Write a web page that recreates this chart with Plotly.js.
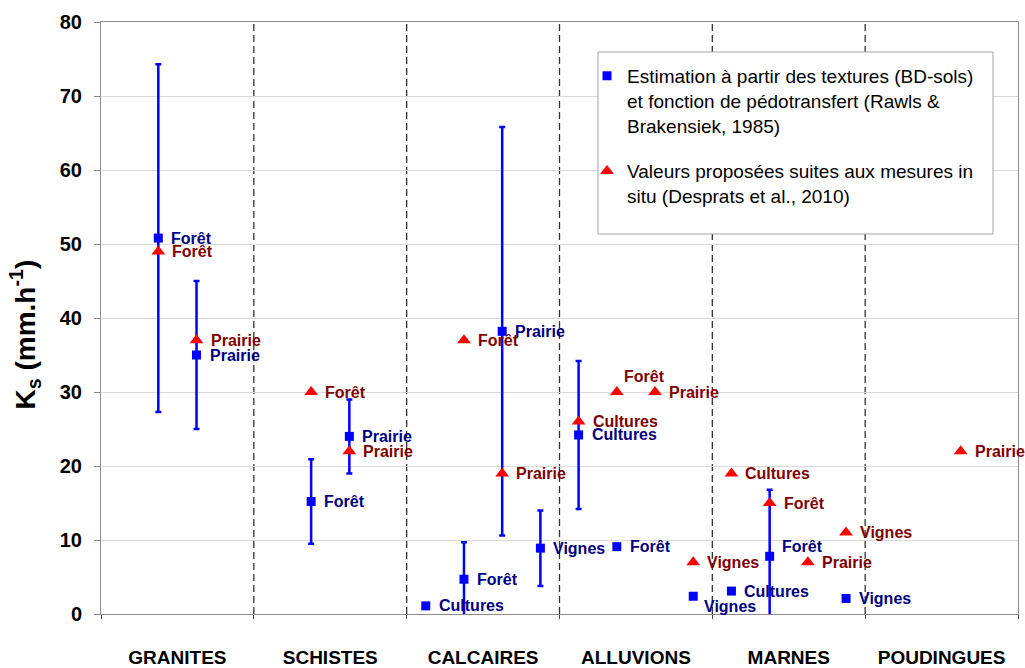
<!DOCTYPE html>
<html><head><meta charset="utf-8">
<script src="https://cdn.plot.ly/plotly-3.0.1.min.js"></script>
<style>html,body{margin:0;padding:0;background:#fff;}#chart{width:1025px;height:668px;}</style>
</head><body><div id="chart"></div>
<script>
const groups = ['GRANITES','SCHISTES','CALCAIRES','ALLUVIONS','MARNES','POUDINGUES'];
const landUses = ['Cultures','Forêt','Prairie','Vignes'];

// Estimation from textures (BD-sols) + pedotransfer function
const estGroup = ['GRANITES','GRANITES','SCHISTES','SCHISTES','CALCAIRES','CALCAIRES','CALCAIRES','CALCAIRES','ALLUVIONS','ALLUVIONS','ALLUVIONS','MARNES','MARNES','MARNES'];
const estUse   = ['Forêt','Prairie','Forêt','Prairie','Cultures','Forêt','Prairie','Vignes','Cultures','Forêt','Vignes','Cultures','Forêt','Vignes'];
const estKs    = [50.8,35,15.2,24,1.1,4.7,38.2,8.9,24.2,9.1,2.4,3.1,7.8,2.1];
const estErr   = [23.5,10,5.7,5,null,5,27.6,5.1,10,null,null,null,9,null];

// Values proposed after in-situ measurements
const insituGroup = ['GRANITES','GRANITES','SCHISTES','SCHISTES','CALCAIRES','CALCAIRES','ALLUVIONS','ALLUVIONS','ALLUVIONS','ALLUVIONS','MARNES','MARNES','MARNES','MARNES','POUDINGUES'];
const insituUse   = ['Forêt','Prairie','Forêt','Prairie','Forêt','Prairie','Cultures','Forêt','Prairie','Vignes','Cultures','Forêt','Prairie','Vignes','Prairie'];
const insituKs    = [49,37,30,22,37,19,26,30,30,7,19,15,7,11,22];

const estName = 'Estimation à partir des textures (BD-sols)<br>et fonction de pédotransfert (Rawls &amp;<br>Brakensiek, 1985)';
const insituName = 'Valeurs proposées suites aux mesures in<br>situ (Desprats et al., 2010)';
const yTitle = 'K<sub>s</sub> (mm.h<sup>-1</sup>)';

// ---- layout helpers ----
const SLOTS = landUses.length;
const pos = (g, u) => groups.indexOf(g) * SLOTS + landUses.indexOf(u) + 0.5;
const FONT = 'Liberation Sans, Arial, sans-serif';
const BLUE = '#0000FF', RED = '#FF0000', BLUE_TXT = '#000080', RED_TXT = '#800000';

const estX = estGroup.map((g, i) => pos(g, estUse[i]));
const insituX = insituGroup.map((g, i) => pos(g, insituUse[i]));

const traces = [
  {
    type: 'scatter', mode: 'markers', name: estName, legendgroup: 'a',
    x: estX, y: estKs,
    marker: {symbol: 'square', size: 9, color: BLUE},
    error_y: {type: 'data', array: estErr, symmetric: true, color: BLUE, thickness: 2.5, width: 3},
    hoverinfo: 'skip'
  },
  {
    type: 'scatter', mode: 'markers', name: insituName, legendgroup: 'b',
    x: insituX, y: insituKs,
    marker: {symbol: 'triangle-up', size: 12, color: RED},
    hoverinfo: 'skip'
  }
];

// label offsets (px) for points whose label is not simply to the right
const specialOffsets = {
  'in|ALLUVIONS|Forêt': [5, 16],
  'est|ALLUVIONS|Vignes': [9, -10],
  'est|MARNES|Forêt': [10, 10]
};

const annotations = [];
estKs.forEach((v, i) => {
  const off = specialOffsets['est|' + estGroup[i] + '|' + estUse[i]] || [11, 0];
  annotations.push({x: estX[i], y: v, xref: 'x', yref: 'y', text: estUse[i], showarrow: false,
    xanchor: 'left', yanchor: 'middle', xshift: off[0], yshift: off[1],
    font: {family: FONT, size: 16, color: BLUE_TXT, weight: 'bold'}});
});
insituKs.forEach((v, i) => {
  const off = specialOffsets['in|' + insituGroup[i] + '|' + insituUse[i]] || [12, 0];
  annotations.push({x: insituX[i], y: v, xref: 'x', yref: 'y', text: insituUse[i], showarrow: false,
    xanchor: 'left', yanchor: 'middle', xshift: off[0], yshift: off[1],
    font: {family: FONT, size: 16, color: RED_TXT, weight: 'bold'}});
});
// y-axis title (placed as in the reference, slightly below the plot centre)
annotations.push({xref: 'paper', yref: 'paper', x: -0.083, y: 0.472, xanchor: 'center', yanchor: 'middle',
  text: yTitle, textangle: -90, showarrow: false,
  font: {family: FONT, size: 28, color: '#000000', weight: 'bold'}});

const shapes = [];
for (let k = 1; k < groups.length; k++) {
  shapes.push({type: 'line', xref: 'x', yref: 'paper', x0: k * SLOTS, x1: k * SLOTS, y0: 0, y1: 1,
    line: {color: '#333333', width: 1.3, dash: '7px,4px'}, layer: 'below'});
}
// legend frame
shapes.push({type: 'rect', xref: 'paper', yref: 'paper', x0: 0.542, x1: 0.9727, y0: 0.6419, y1: 0.9493,
  fillcolor: '#ffffff', line: {color: '#a6a6a6', width: 1}, layer: 'above'});

const layout = {
  width: 1025, height: 668,
  margin: {l: 101, r: 7, t: 22, b: 54},
  paper_bgcolor: '#ffffff', plot_bgcolor: '#ffffff',
  font: {family: FONT, color: '#000000'},
  showlegend: true,
  legend: {x: 0.530, y: 0.941, xanchor: 'left', yanchor: 'top', bgcolor: 'rgba(0,0,0,0)', borderwidth: 0,
    font: {family: FONT, size: 19, color: '#000000'}, traceorder: 'grouped', tracegroupgap: 18, valign: 'top'},
  xaxis: {
    range: [0, groups.length * SLOTS], tickmode: 'array',
    tickvals: groups.map((g, i) => i * SLOTS + SLOTS / 2), ticktext: groups,
    showgrid: false, zeroline: false, showline: true, mirror: true, linecolor: '#8c8c8c', linewidth: 1,
    ticks: '', ticklabelstandoff: 26,
    tickfont: {family: FONT, size: 19, color: '#000000', weight: 'bold'},
    minor: {tick0: 0, dtick: SLOTS, ticks: 'outside', ticklen: 4, tickcolor: '#444444', showgrid: false},
    fixedrange: true
  },
  yaxis: {
    range: [0, 80], dtick: 10, tick0: 0,
    showgrid: true, gridcolor: '#d9d9d9', gridwidth: 1, zeroline: false,
    showline: true, mirror: true, linecolor: '#8c8c8c', linewidth: 1,
    ticks: 'outside', ticklen: 6, tickcolor: '#8c8c8c', ticklabelstandoff: 8,
    tickfont: {family: FONT, size: 20, color: '#000000', weight: 'bold'},
    fixedrange: true
  },
  shapes: shapes,
  annotations: annotations
};

Plotly.newPlot('chart', traces, layout, {displayModeBar: false, staticPlot: true});
</script>
</body></html>
